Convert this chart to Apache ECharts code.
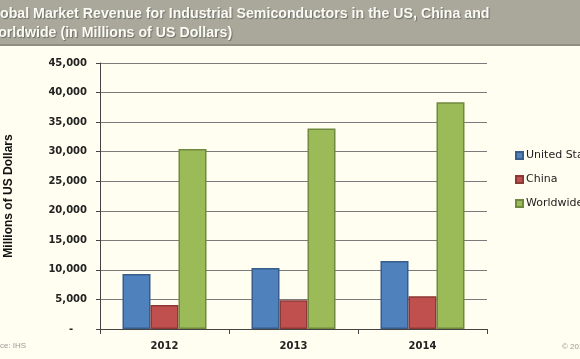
<!DOCTYPE html>
<html>
<head>
<meta charset="utf-8">
<script src="https://cdn.jsdelivr.net/npm/echarts@6/dist/echarts.min.js"></script>
<style>
html,body{margin:0;padding:0;background:#fffef0;}
#chart{width:580px;height:359px;}
</style>
</head>
<body>
<div id="chart"></div>
<script>
const categories = ['2012', '2013', '2014'];
const seriesNames = ['United States', 'China', 'Worldwide'];
const usValues = [9300, 10300, 11500];
const chinaValues = [4050, 4850, 5550];
const worldValues = [30450, 33900, 38350];
const yMin = 0, yMax = 45000, yStep = 5000;

const chart = echarts.init(document.getElementById('chart'), null, {renderer: 'canvas'});
const barBorder = ['#385d8a', '#8c3836', '#71893f'];
const barFill = ['#4f81bd', '#c0504d', '#9bbb59'];
const vals = [usValues, chinaValues, worldValues];

chart.setOption({
  backgroundColor: '#fffef0',
  animation: false,
  graphic: [
    {type: 'rect', shape: {x: 0, y: 0, width: 580, height: 44}, style: {fill: '#a9a89b'}, z: -1},
    {type: 'rect', shape: {x: 0, y: 44, width: 580, height: 2}, style: {fill: '#8f8e84'}, z: -1},
    {type: 'text', left: -17, top: 342, style: {text: 'Source: IHS', fill: '#999', font: '8px "Liberation Sans", Arial'}},
    {type: 'text', left: 562, top: 343, style: {text: '© 2014 IHS', fill: '#999', font: '8px "Liberation Sans", Arial'}}
  ],
  title: {
    text: 'Global Market Revenue for Industrial Semiconductors in the US, China and\nWorldwide (in Millions of US Dollars)',
    left: -15, top: 5, padding: 0,
    textStyle: {color: '#fbfbf5', fontSize: 14.2, fontWeight: 'bold', fontFamily: '"Liberation Sans", Arial', lineHeight: 19,
      textShadowColor: 'rgba(0,0,0,0.35)', textShadowBlur: 1, textShadowOffsetX: 1, textShadowOffsetY: 1}
  },
  legend: {
    orient: 'vertical', left: 515, top: 150, padding: 0,
    icon: 'rect', itemWidth: 7, itemHeight: 7, itemGap: 13,
    textStyle: {fontSize: 11, color: '#222', fontFamily: '"DejaVu Sans", Verdana', padding: [0, 0, 0, -2]},
    data: seriesNames
  },
  grid: {left: 100, right: 93, top: 63, bottom: 30, outerBoundsMode: 'none', containLabel: false},
  xAxis: {
    type: 'category', data: categories,
    axisLine: {lineStyle: {color: '#444', width: 1}},
    axisTick: {show: true, length: 5, lineStyle: {color: '#444'}},
    axisLabel: {fontSize: 10, fontWeight: 'bold', color: '#222', fontFamily: '"DejaVu Sans", Verdana', margin: 12}
  },
  yAxis: {
    type: 'value', min: yMin, max: yMax, interval: yStep,
    name: 'Millions of US Dollars', nameLocation: 'middle', nameRotate: 90, nameGap: 85,
    nameTextStyle: {fontSize: 12, fontWeight: 'bold', color: '#111', fontFamily: '"Liberation Sans", Arial'},
    axisLine: {show: true, lineStyle: {color: '#444'}},
    axisTick: {show: true, length: 4, lineStyle: {color: '#444'}},
    splitLine: {lineStyle: {color: '#7a7a7a', width: 1}},
    axisLabel: {
      fontSize: 10, fontWeight: 'bold', color: '#222', fontFamily: '"DejaVu Sans", Verdana', margin: 13,
      formatter: v => v === 0 ? '-    ' : v.toLocaleString('en-US')
    }
  },
  series: seriesNames.map((n, i) => ({
    name: n, type: 'bar', data: vals[i],
    barWidth: 28, barGap: '0%', barCategoryGap: '34%',
    itemStyle: {color: barFill[i], borderColor: barBorder[i], borderWidth: 1.5}
  }))
});
</script>
</body>
</html>
